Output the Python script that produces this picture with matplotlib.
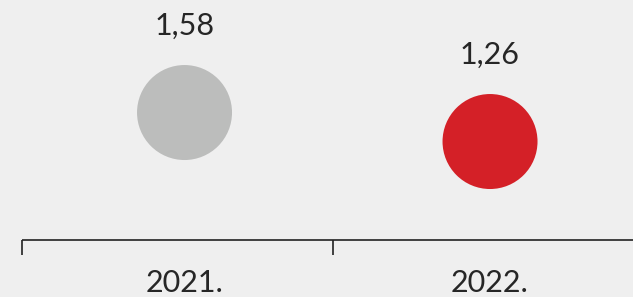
import matplotlib
matplotlib.use("Agg")
import matplotlib.pyplot as plt
import matplotlib.transforms as mtransforms

# data
years = ["2021.", "2022."]
values = [1.58, 1.26]
value_labels = ["1,58", "1,26"]
colors = ["#bcbdbc", "#d42027"]

plt.rcParams['font.family'] = ['Lato', 'DejaVu Sans']

fig = plt.figure(figsize=(6.33, 2.97), dpi=100, facecolor="#efefef")
ax = fig.add_axes([0, 0, 1, 1])
ax.set_facecolor("#efefef")

x = list(range(len(years)))
ax.set_xlim(-0.604, 1.468)
ax.set_ylim(-0.456, 2.822)

ax.scatter(x, values, s=4678, c=colors, linewidths=0, zorder=3)

for xi, v, lab in zip(x, values, value_labels):
    ax.annotate(lab, (xi, v), xytext=(0, 62.5), textcoords="offset points",
                ha="center", va="center", fontsize=22, color="#262626")

# year labels under the bracket
tr = mtransforms.blended_transform_factory(ax.transData, ax.transAxes)
for xi, yr in zip(x, years):
    ax.text(xi, 0.047, yr, transform=tr, ha="center", va="center",
            fontsize=22, color="#262626")

# timeline bracket (figure fraction coordinates)
line_y = 1 - 240 / 297
tick_y = 1 - 255 / 297
ax.plot([22 / 633, 1], [line_y, line_y], transform=ax.transAxes,
        color="#222222", lw=1.2, solid_capstyle="butt")
for tx in [22 / 633, 333 / 633]:
    ax.plot([tx, tx], [line_y, tick_y], transform=ax.transAxes,
            color="#222222", lw=1.2, solid_capstyle="butt")

ax.axis("off")
fig.savefig("out.png", dpi=100, facecolor=fig.get_facecolor())
